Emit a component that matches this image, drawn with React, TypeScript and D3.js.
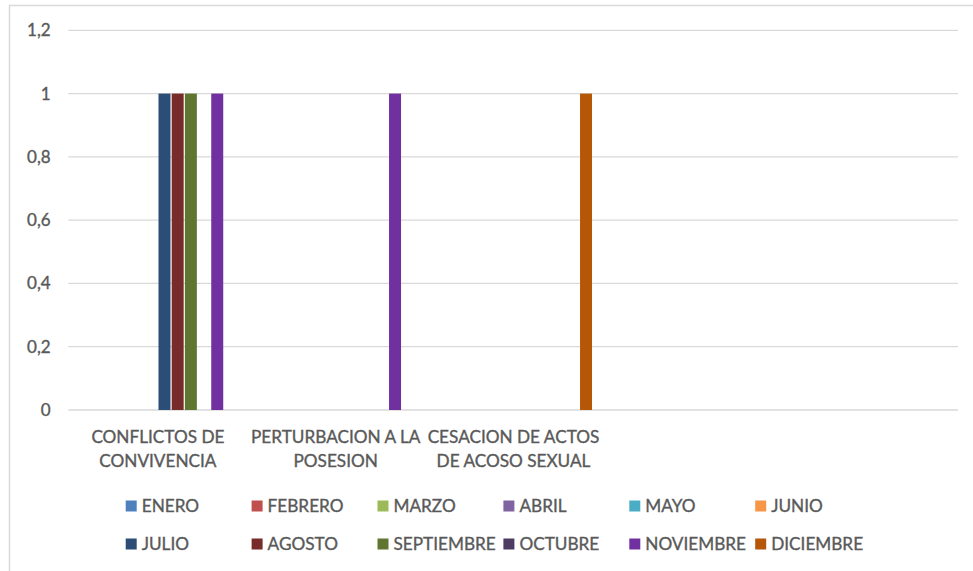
import { useEffect, useRef } from 'react';
import * as d3 from 'd3';

const categories = [
  'CONFLICTOS DE\nCONVIVENCIA',
  'PERTURBACION A LA\nPOSESION',
  'CESACION DE ACTOS\nDE ACOSO SEXUAL',
  '',
  '',
];

const months = [
  'ENERO', 'FEBRERO', 'MARZO', 'ABRIL', 'MAYO', 'JUNIO',
  'JULIO', 'AGOSTO', 'SEPTIEMBRE', 'OCTUBRE', 'NOVIEMBRE', 'DICIEMBRE',
];

const monthColors = [
  '#4F81BD', '#C0504D', '#9BBB59', '#8064A2', '#4BACC6', '#F79646',
  '#2C4D75', '#772C2A', '#5F7530', '#4D3B62', '#7030A0', '#B65708',
];

// one row per month, one value per category (null = no bar)
const values: (number | null)[][] = [
  [null, null, null, null, null], // ENERO
  [null, null, null, null, null], // FEBRERO
  [null, null, null, null, null], // MARZO
  [null, null, null, null, null], // ABRIL
  [null, null, null, null, null], // MAYO
  [null, null, null, null, null], // JUNIO
  [1, null, null, null, null],    // JULIO
  [1, null, null, null, null],    // AGOSTO
  [1, null, null, null, null],    // SEPTIEMBRE
  [null, null, null, null, null], // OCTUBRE
  [1, 1, null, null, null],       // NOVIEMBRE
  [null, null, 1, null, null],    // DICIEMBRE
];

const yTicks = [0, 0.2, 0.4, 0.6, 0.8, 1, 1.2];

const FONT = 'Lato, "Open Sans", sans-serif';
const TEXT = '#595959';

export default function App() {
  const ref = useRef<SVGSVGElement>(null);

  useEffect(() => {
    const width = 973;
    const height = 571;
    const svg = d3.select(ref.current);
    svg.selectAll('*').remove();

    svg.append('rect')
      .attr('width', width).attr('height', height).attr('fill', '#fff');

    // chart area border (runs off right/bottom)
    svg.append('rect')
      .attr('x', 9.5).attr('y', 5.5)
      .attr('width', 1000).attr('height', 600)
      .attr('fill', 'none').attr('stroke', '#d9d9d9').attr('stroke-width', 1.5);

    const left = 69, right = 958, top = 30.3, bottom = 410;

    const y = d3.scaleLinear().domain([0, 1.2]).range([bottom, top]);
    const x0 = d3.scaleBand<number>()
      .domain(d3.range(categories.length))
      .range([left, right])
      .padding(0);
    const gap = x0.bandwidth() * 0.055;
    const x1 = d3.scaleBand<number>()
      .domain(d3.range(months.length))
      .range([gap, x0.bandwidth() - gap]);

    const fmt = (v: number) => d3.format('.1~f')(v).replace('.', ',');

    const textStyle = (sel: any, size: number) => sel
      .attr('font-family', FONT)
      .attr('font-size', size)
      .attr('fill', TEXT)
      .attr('stroke', TEXT)
      .attr('stroke-width', 0.35);

    // grid
    svg.append('g')
      .selectAll('line')
      .data(yTicks)
      .join('line')
      .attr('x1', 68.3).attr('x2', right)
      .attr('y1', d => y(d)).attr('y2', d => y(d))
      .attr('stroke', '#d9d9d9').attr('stroke-width', 1.3);

    // y labels
    svg.append('g')
      .selectAll('text')
      .data(yTicks)
      .join('text')
      .attr('x', 50.7)
      .attr('y', d => y(d))
      .attr('dy', '0.35em')
      .attr('text-anchor', 'end')
      .call(textStyle, 17)
      .text(d => fmt(d));

    // bars
    const bars: { c: number; m: number; v: number }[] = [];
    values.forEach((row, m) => row.forEach((v, c) => {
      if (v != null) bars.push({ c, m, v });
    }));

    svg.append('g')
      .selectAll('rect')
      .data(bars)
      .join('rect')
      .attr('x', d => (x0(d.c) ?? 0) + (x1(d.m) ?? 0) + 0.6)
      .attr('y', d => y(d.v))
      .attr('width', x1.bandwidth() - 1.2)
      .attr('height', d => y(0) - y(d.v))
      .attr('fill', d => monthColors[d.m]);

    // category labels
    const cat = svg.append('g')
      .selectAll('text')
      .data(categories)
      .join('text')
      .attr('text-anchor', 'middle')
      .call(textStyle, 17.2);
    cat.each(function (d, i) {
      const t = d3.select(this);
      const cx = (x0(i) ?? 0) + x0.bandwidth() / 2;
      d.split('\n').forEach((line, k) => {
        t.append('tspan')
          .attr('x', cx)
          .attr('y', 443 + k * 24)
          .text(line);
      });
    });

    // legend
    const legend = svg.append('g')
      .selectAll('g')
      .data(months)
      .join('g')
      .attr('transform', (_, i) => `translate(${125.7 + (i % 6) * 125.9},${506 + Math.floor(i / 6) * 38})`);
    legend.append('rect')
      .attr('x', 0).attr('y', -5.5)
      .attr('width', 11).attr('height', 11)
      .attr('fill', (_, i) => monthColors[i]);
    legend.append('text')
      .attr('x', 16)
      .attr('y', 0)
      .attr('dy', '0.36em')
      .call(textStyle, 17.2)
      .text(d => d);
  }, []);

  return (
    <div style={{ position: 'absolute', left: 0, top: 0 }}>
      <svg ref={ref} width={973} height={571} style={{ display: 'block' }} />
    </div>
  );
}
